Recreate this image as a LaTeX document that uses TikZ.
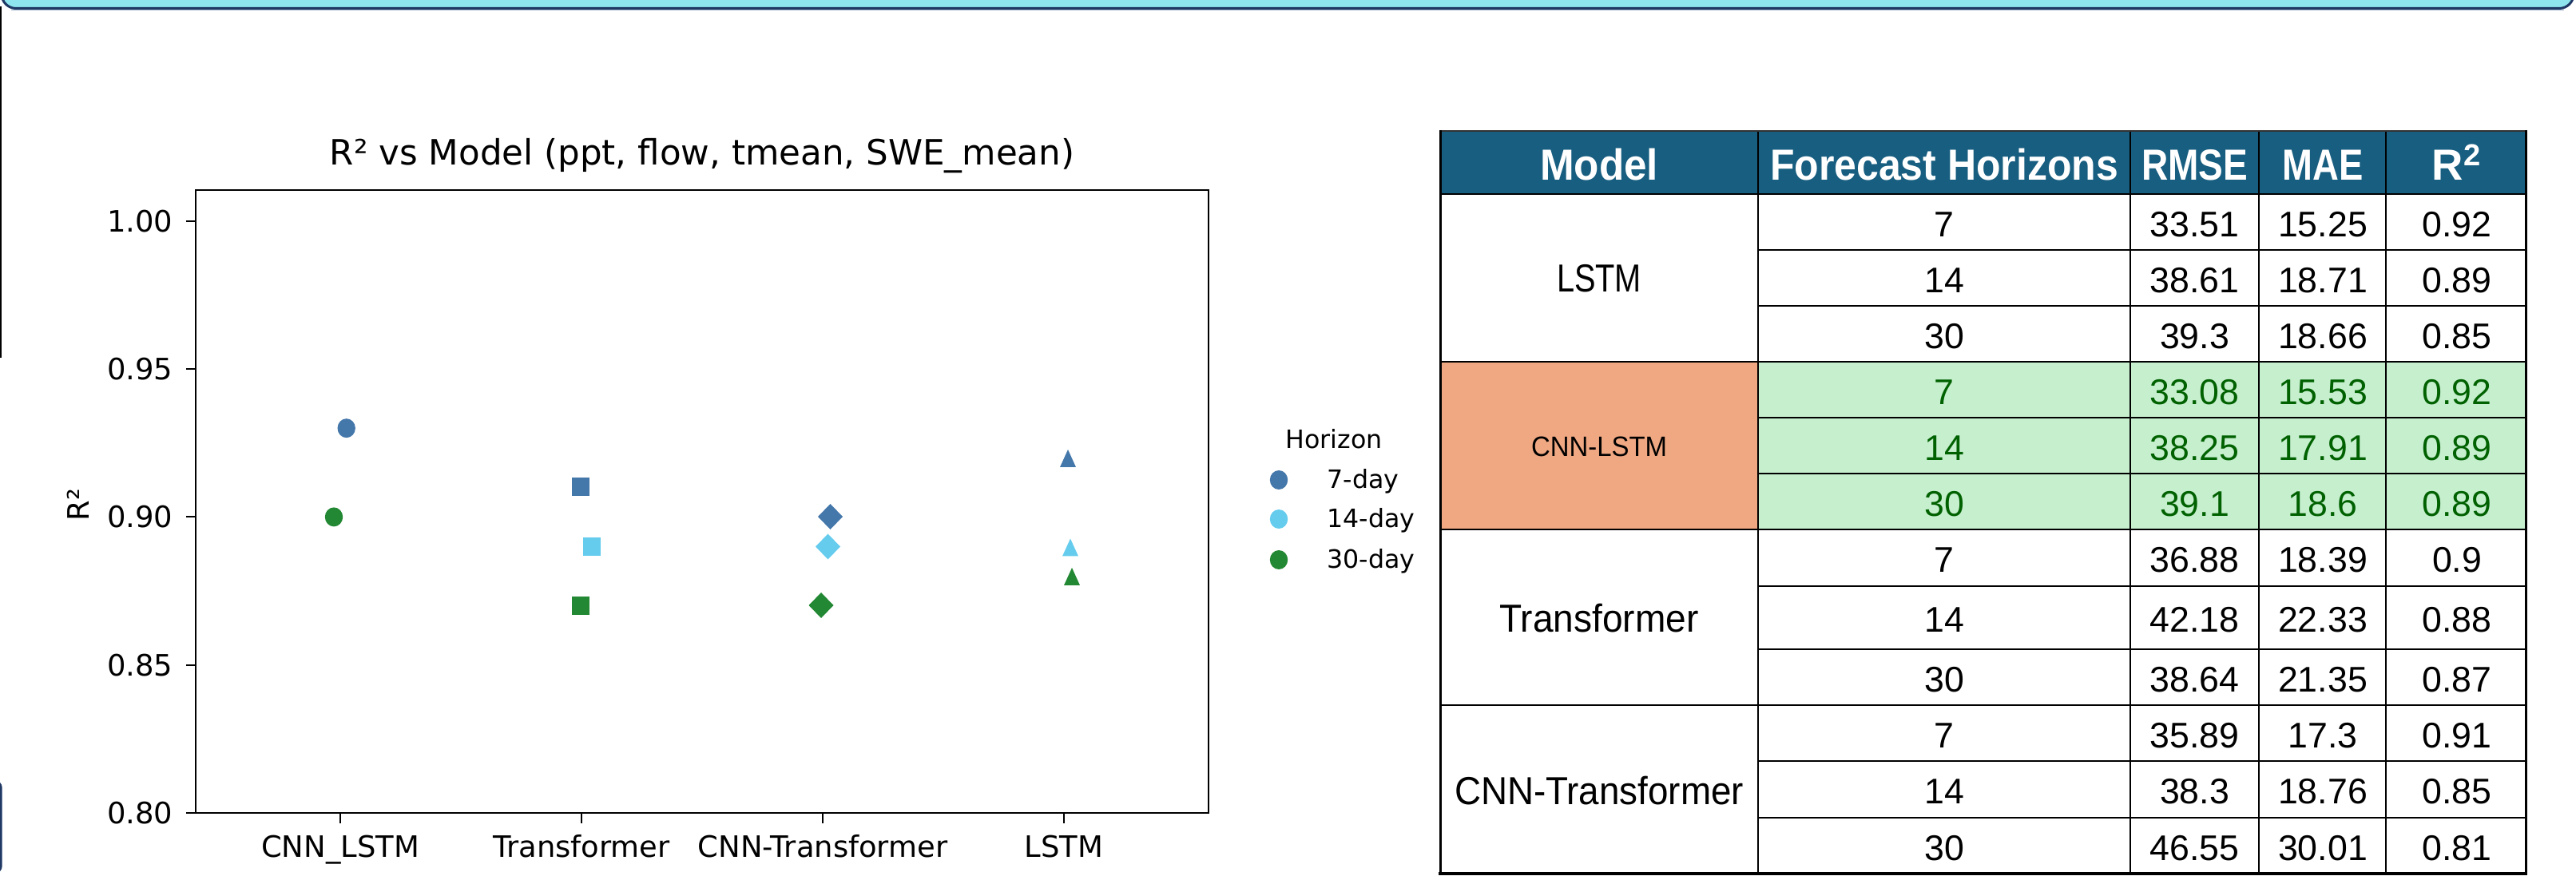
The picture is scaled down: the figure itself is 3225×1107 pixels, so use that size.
\documentclass[tikz,border=0pt]{standalone}
\usepackage{fontspec}
\usepackage{graphicx}
\setmainfont{DejaVu Sans}
\newfontfamily\plotfont{DejaVu Sans}
\newfontfamily\tabfont{Liberation Sans}
% one unit = one pixel of the 3225 x 1107 canvas
\newlength\pxu
\setlength\pxu{0.01cm}
% squeeze a text horizontally to a given width (in pixels)
\newcommand\fitw[2]{\resizebox{#1\pxu}{\height}{#2}}

\definecolor{bannerfill}{RGB}{142,229,238}
\definecolor{navy}{RGB}{31,56,100}
\definecolor{hdrblue}{RGB}{24,94,128}
\definecolor{salmon}{RGB}{240,168,131}
\definecolor{goodfill}{RGB}{198,239,206}
\definecolor{goodtext}{RGB}{0,97,0}
\definecolor{hseven}{RGB}{68,119,170}
\definecolor{hfourteen}{RGB}{102,204,238}
\definecolor{hthirty}{RGB}{34,136,51}

% scatter markers
\newcommand\mkcirc[2]{\fill[#1] (#2) ellipse [x radius=11.2\pxu, y radius=12\pxu];}
\newcommand\mksq[2]{\fill[#1] (#2) ++(-11,-11.5) rectangle ++(22,23);}
\newcommand\mkdia[2]{\fill[#1] (#2) ++(0,-16) -- ++(15.5,16) -- ++(-15.5,16) -- ++(-15.5,-16) -- cycle;}
\newcommand\mktri[2]{\fill[#1] (#2) ++(0,-11) -- ++(10,22) -- ++(-20,0) -- cycle;}

% one data row of the table: index, row centre, colour, horizon, RMSE, MAE, R2
\newcommand\trow[7]{%
  \node[num, text=#3] (hz#1) at (2434,#2+3) {#4};
  \node[num, text=#3] (rm#1) at (2747.5,#2+3) {#5};
  \node[num, text=#3] (ma#1) at (2908,#2+3) {#6};
  \node[num, text=#3] (rs#1) at (3076,#2+3) {#7};
}

\begin{document}
\begin{tikzpicture}[x=0.01cm, y=-0.01cm,
  tick/.style={font=\plotfont\fontsize{10.5pt}{12pt}\selectfont, inner sep=0pt},
  legtext/.style={font=\plotfont\fontsize{9pt}{11pt}\selectfont, inner sep=0pt},
  spine/.style={line width=2.2\pxu, black},
  num/.style={font=\tabfont\fontsize{12.7pt}{14pt}\selectfont, inner sep=0pt, anchor=center},
  modelname/.style={font=\tabfont\fontsize{13.9pt}{15pt}\selectfont, inner sep=0pt, anchor=center},
  hdr/.style={font=\tabfont\bfseries\fontsize{15.5pt}{17pt}\selectfont, text=white, inner sep=0pt, anchor=base},
  grid/.style={line width=2.5\pxu, black},
]
\useasboundingbox (0,0) rectangle (3225,1107);
\clip (0,0) rectangle (3225,1107);

% ---------- frame pieces along the edges ----------
\draw[navy, line width=3\pxu, fill=bannerfill, rounded corners=18\pxu] (2,-60) rectangle (3222,10.5);
\draw[color={rgb,255:red,150;green,170;blue,195}, line width=1.2\pxu] (14,12.8) -- (3210,12.8);
\draw[black, line width=2.2\pxu] (1,8) -- (1,448);
\draw[navy, line width=2.6\pxu, rounded corners=7\pxu] (-20,979) -- (1.3,979) -- (1.3,1092) -- (-20,1092);

% ---------- scatter plot ----------
\node[font=\plotfont\fontsize{12.4pt}{14pt}\selectfont, anchor=base, inner sep=0pt] (title) at (879,207)
  {\fitw{932}{R² vs Model (ppt, flow, tmean, SWE\_mean)}};

% y axis ticks and labels
\foreach \yy/\lab [count=\k] in {276.8/1.00, 462.1/0.95, 647.4/0.90, 832.7/0.85, 1018/0.80} {
  \draw[spine] (233,\yy) -- (245,\yy);
  \node[tick, anchor=east] (yt\k) at (217,\yy) {\lab};
}
% x axis ticks and labels
\foreach \xx/\lab [count=\k] in {426/CNN\_LSTM, 728/Transformer, 1030/CNN-Transformer, 1332/LSTM} {
  \draw[spine] (\xx,1018) -- (\xx,1031);
  \node[tick, anchor=base] (xt\k) at (\xx,1073) {\lab};
}
\node[tick, rotate=90, anchor=center] (ylab) at (98,632) {R²};

% data points
\mkcirc{hseven}{433.7,536.2}
\mkcirc{hthirty}{418,647.4}
\mksq{hseven}{727,610}
\mksq{hfourteen}{740.5,684.5}
\mksq{hthirty}{727,758.5}
\mkdia{hseven}{1039.5,647}
\mkdia{hfourteen}{1036.5,684.5}
\mkdia{hthirty}{1028,758}
\mktri{hseven}{1337,574}
\mktri{hfourteen}{1340,685.5}
\mktri{hthirty}{1342,722}

% axes frame
\draw[spine] (245,238) rectangle (1513,1018);

% legend
\node[legtext, anchor=base] (legtitle) at (1670,562) {Horizon};
\mkcirc{hseven}{1601,601}
\mkcirc{hfourteen}{1601,650}
\mkcirc{hthirty}{1601,701}
\node[legtext, anchor=base west] (leg7) at (1661,612) {7-day};
\node[legtext, anchor=base west] (leg14) at (1661,661) {14-day};
\node[legtext, anchor=base west] (leg30) at (1661,712) {30-day};

% ---------- results table ----------
% cell fills
\fill[hdrblue] (1803,164) rectangle (3162,243);
\fill[salmon] (1803,453) rectangle (2201,663);
\fill[goodfill] (2201,453) rectangle (3162,663);

% inner row rules
\foreach \yy in {313,383,523,593,734,813,953,1024}
  \draw[grid] (2201,\yy) -- (3162,\yy);
% group rules
\foreach \yy in {243,453,663,883}
  \draw[grid] (1803,\yy) -- (3162,\yy);
% column rules
\foreach \xx in {2201,2667,2828,2987}
  \draw[line width=2.2\pxu, black] (\xx,164) -- (\xx,1094);
% outer border
\draw[line width=2.2\pxu, black!80] (1803,164) -- (3162,164);
\draw[line width=3\pxu, black] (1803,163) -- (1803,1094);
\draw[line width=3\pxu, black] (3162,163) -- (3162,1094);
\draw[line width=4\pxu, black] (1801,1094) -- (3164,1094);

% header
\node[hdr] (hmodel) at (2002,226) {\fitw{148}{Model}};
\node[hdr] (hhor) at (2434,226) {\fitw{436}{Forecast Horizons}};
\node[hdr] (hrmse) at (2747.5,226) {\fitw{133}{RMSE}};
\node[hdr] (hmae) at (2908,226) {\fitw{101}{MAE}};
\node[hdr] (hr2) at (3076,226) {R\textsuperscript{2}};

% model names
\node[modelname] (mlstm) at (2002,349) {\fitw{106}{LSTM}};
\node[modelname, font=\tabfont\fontsize{10pt}{12pt}\selectfont] (mcnnlstm) at (2002,559) {\fitw{170}{CNN-LSTM}};
\node[modelname] (mtrans) at (2002,774) {\fitw{249}{Transformer}};
\node[modelname] (mcnntrans) at (2002,990) {\fitw{362}{CNN-Transformer}};

% values
\trow{1}{278}{black}{7}{33.51}{15.25}{0.92}
\trow{2}{348}{black}{14}{38.61}{18.71}{0.89}
\trow{3}{418}{black}{30}{39.3}{18.66}{0.85}
\trow{4}{488}{goodtext}{7}{33.08}{15.53}{0.92}
\trow{5}{558}{goodtext}{14}{38.25}{17.91}{0.89}
\trow{6}{628}{goodtext}{30}{39.1}{18.6}{0.89}
\trow{7}{698.5}{black}{7}{36.88}{18.39}{0.9}
\trow{8}{773.5}{black}{14}{42.18}{22.33}{0.88}
\trow{9}{848}{black}{30}{38.64}{21.35}{0.87}
\trow{10}{918}{black}{7}{35.89}{17.3}{0.91}
\trow{11}{988.5}{black}{14}{38.3}{18.76}{0.85}
\trow{12}{1059}{black}{30}{46.55}{30.01}{0.81}
\end{tikzpicture}
\end{document}
